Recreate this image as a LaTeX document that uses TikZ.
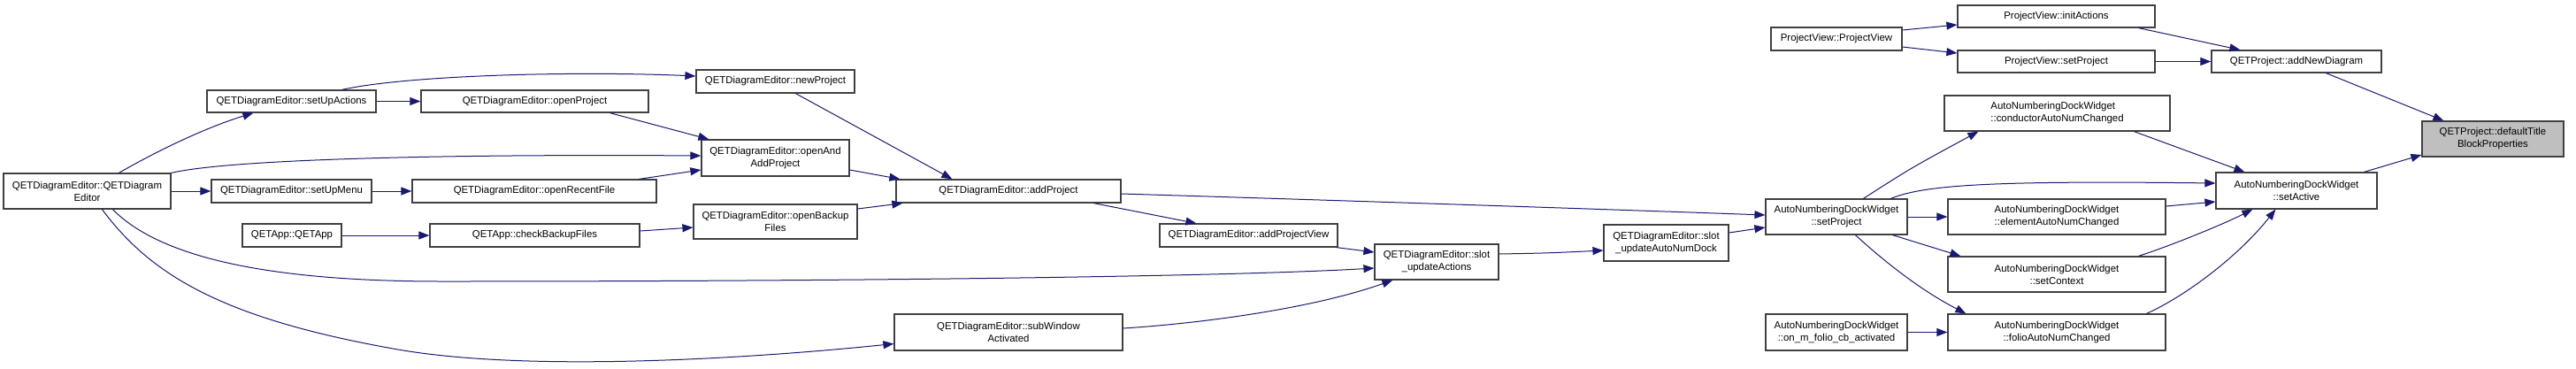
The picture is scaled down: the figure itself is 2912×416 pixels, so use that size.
\documentclass[tikz,border=0pt]{standalone}
\usepackage{fontspec}
\setmainfont{Liberation Sans}
\usetikzlibrary{arrows.meta,calc}
\definecolor{edgec}{HTML}{191970}
\definecolor{boxc}{HTML}{404040}
\definecolor{hil}{HTML}{BFBFBF}
\begin{document}
\begin{tikzpicture}[x=1pt,y=-1pt,
  box/.style={draw=boxc, line width=1.2pt, fill=white, inner sep=0pt, align=center, font=\fontsize{11.4}{14}\selectfont},
  edge/.style={draw=edgec, line width=1pt, -{Triangle[length=12pt,width=9pt]}}]
\useasboundingbox (0,0) rectangle (2912,416);
% column 1
\node[box, minimum width=189pt, minimum height=40pt] (qde) at (98.5,216) {QETDiagramEditor::QETDiagram\\Editor};
% column 2
\node[box, minimum width=191pt, minimum height=25pt] (sua) at (329.5,114.5) {QETDiagramEditor::setUpActions};
\node[box, minimum width=181pt, minimum height=26pt] (sum) at (329.5,216) {QETDiagramEditor::setUpMenu};
\node[box, minimum width=112pt, minimum height=26pt] (qapp) at (330,266) {QETApp::QETApp};
% column 3
\node[box, minimum width=257pt, minimum height=25pt] (opp) at (604.5,114.5) {QETDiagramEditor::openProject};
\node[box, minimum width=276pt, minimum height=26pt] (orf) at (604,216) {QETDiagramEditor::openRecentFile};
\node[box, minimum width=237pt, minimum height=26pt] (cbf) at (604.5,266) {QETApp::checkBackupFiles};
% column 4
\node[box, minimum width=179pt, minimum height=26pt] (np) at (876.5,92) {QETDiagramEditor::newProject};
\node[box, minimum width=167pt, minimum height=41pt] (oap) at (876.5,178.5) {QETDiagramEditor::openAnd\\AddProject};
\node[box, minimum width=185pt, minimum height=39pt] (obf) at (876.5,250.5) {QETDiagramEditor::openBackup\\Files};
% column 5
\node[box, minimum width=254pt, minimum height=26pt] (ap) at (1140,216) {QETDiagramEditor::addProject};
\node[box, minimum width=258pt, minimum height=41pt] (swa) at (1140,375.5) {QETDiagramEditor::subWindow\\Activated};
% column 6
\node[box, minimum width=201pt, minimum height=26pt] (apv) at (1411.5,266) {QETDiagramEditor::addProjectView};
% column 7
\node[box, minimum width=140pt, minimum height=40pt] (sua2) at (1624,296) {QETDiagramEditor::slot\\\_updateActions};
% column 8
\node[box, minimum width=141pt, minimum height=41pt] (suand) at (1883.5,274.5) {QETDiagramEditor::slot\\\_updateAutoNumDock};
% column 9
\node[box, minimum width=148pt, minimum height=26pt] (pvpv) at (2076,44) {ProjectView::ProjectView};
\node[box, minimum width=160pt, minimum height=40pt] (asp) at (2076,245) {AutoNumberingDockWidget\\::setProject};
\node[box, minimum width=160pt, minimum height=41pt] (ofc) at (2076,375.5) {AutoNumberingDockWidget\\::on\_m\_folio\_cb\_activated};
% column 10
\node[box, minimum width=223pt, minimum height=25pt] (pvia) at (2324.5,18.5) {ProjectView::initActions};
\node[box, minimum width=223pt, minimum height=25pt] (pvsp) at (2324.5,69.5) {ProjectView::setProject};
\node[box, minimum width=255pt, minimum height=40pt, align=left] (canc) at (2325.5,128) {AutoNumberingDockWidget\\::conductorAutoNumChanged};
\node[box, minimum width=246pt, minimum height=40pt] (eanc) at (2325,245) {AutoNumberingDockWidget\\::elementAutoNumChanged};
\node[box, minimum width=246pt, minimum height=40pt] (sc) at (2325,310) {AutoNumberingDockWidget\\::setContext};
\node[box, minimum width=246pt, minimum height=41pt] (fanc) at (2325,375.5) {AutoNumberingDockWidget\\::folioAutoNumChanged};
% column 11
\node[box, minimum width=192pt, minimum height=25pt] (and) at (2596,69.5) {QETProject::addNewDiagram};
\node[box, minimum width=182pt, minimum height=41pt] (sa) at (2596,215.5) {AutoNumberingDockWidget\\::setActive};
% column 12
\node[box, fill=hil, minimum width=160pt, minimum height=40pt] (dtbp) at (2818,157) {QETProject::defaultTitle\\BlockProperties};

% edges
\draw[edge] ($(qde.north west)+(131,0)$) .. controls (175,172) and (230,145) .. ($(sua.south west)+(53,0)$);
\draw[edge] (qde.east) -- (sum.west);
\draw[edge] (qde.north east) .. controls (260,180) and (500,174) .. ($(oap.west)+(0,-2.5)$);
\draw[edge] ($(qde.south west)+(124,0)$) .. controls (180,290) and (300,318) .. (500,318) .. controls (1000,318) and (1400,312) .. ($(sua2.west)+(0,7)$);
\draw[edge] ($(qde.south west)+(112,0)$) .. controls (170,310) and (250,360) .. (450,395) .. controls (600,421) and (850,405) .. ($(swa.west)+(0,13)$);
\draw[edge] (sua.east) -- (opp.west);
\draw[edge] ($(sua.north west)+(153,0)$) .. controls (460,85) and (650,80) .. ($(np.west)+(0,-6)$);
\draw[edge] (sum.east) -- (orf.west);
\draw[edge] ($(opp.south west)+(214,0)$) -- ($(oap.north west)+(9,0)$);
\draw[edge] ($(orf.north west)+(257,0)$) -- ($(oap.west)+(0,13.5)$);
\draw[edge] (qapp.east) -- (cbf.west);
\draw[edge] ($(cbf.east)+(0,-5)$) -- ($(obf.west)+(0,6.5)$);
\draw[edge] ($(np.south west)+(113,0)$) -- ($(ap.north west)+(64,0)$);
\draw[edge] ($(oap.east)+(0,13.5)$) -- ($(ap.north west)+(5,0)$);
\draw[edge] ($(obf.east)+(0,-14.5)$) -- ($(ap.south west)+(8,0)$);
\draw[edge] ($(ap.south west)+(224,0)$) -- ($(apv.north west)+(42,0)$);
\draw[edge] ($(ap.east)+(0,3)$) .. controls (1500,226) and (1800,236) .. ($(asp.west)+(0,-2)$);
\draw[edge] ($(apv.south east)+(-2,0)$) -- ($(sua2.west)+(0,-11)$);
\draw[edge] ($(swa.east)+(0,-4.5)$) .. controls (1350,366) and (1480,350) .. ($(sua2.south west)+(21,0)$);
\draw[edge] ($(sua2.east)+(0,-9)$) .. controls (1750,286) .. ($(suand.west)+(0,8.5)$);
\draw[edge] ($(suand.east)+(0,-11.5)$) -- ($(asp.west)+(0,12)$);
\draw[edge] ($(asp.north west)+(111,0)$) .. controls (2160,190) .. ($(canc.south west)+(39,0)$);
\draw[edge] ($(asp.north west)+(142,0)$) .. controls (2175,209) and (2250,204) .. ($(sa.west)+(0,-8.5)$);
\draw[edge] (asp.east) -- (eanc.west);
\draw[edge] ($(asp.south west)+(144,0)$) -- ($(sc.north west)+(15,0)$);
\draw[edge] ($(asp.south west)+(102,0)$) .. controls (2135,300) and (2175,330) .. ($(fanc.north west)+(21,0)$);
\draw[edge] (ofc.east) -- (fanc.west);
\draw[edge] ($(pvpv.east)+(0,-10)$) -- ($(pvia.west)+(0,9.5)$);
\draw[edge] ($(pvpv.east)+(0,9)$) -- ($(pvsp.west)+(0,-9.5)$);
\draw[edge] ($(pvia.south west)+(205,0)$) -- ($(and.north west)+(33,0)$);
\draw[edge] (pvsp.east) -- (and.west);
\draw[edge] ($(and.south west)+(130,0)$) -- ($(dtbp.north west)+(25,0)$);
\draw[edge] ($(canc.south west)+(215,0)$) -- ($(sa.north west)+(33,0)$);
\draw[edge] ($(eanc.east)+(0,-12)$) -- ($(sa.west)+(0,12.5)$);
\draw[edge] ($(sc.north west)+(216,0)$) .. controls (2450,279) and (2510,255) .. ($(sa.south west)+(42,0)$);
\draw[edge] ($(fanc.north west)+(225,0)$) .. controls (2470,335) and (2530,290) .. ($(sa.south west)+(68,0)$);
\draw[edge] ($(sa.north west)+(168,0)$) -- ($(dtbp.west)+(0,18)$);
\end{tikzpicture}
\end{document}
